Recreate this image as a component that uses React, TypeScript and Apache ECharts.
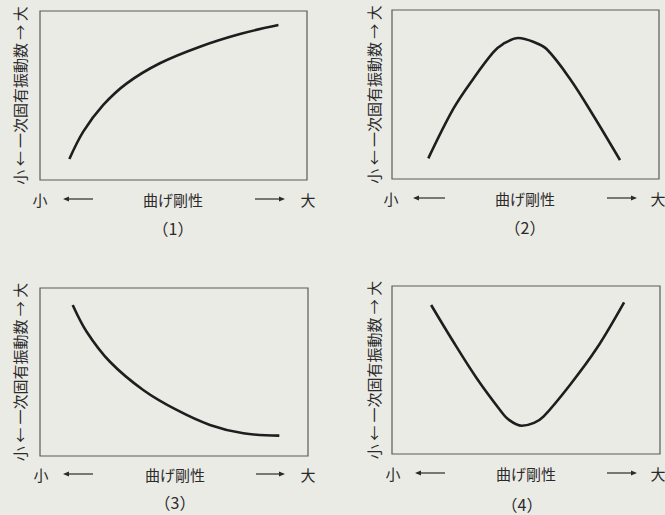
import React, { useEffect, useRef } from "react";
import * as echarts from "echarts";

// Curve points (x: bending stiffness 0-10, y: 1st natural frequency 0-10)
const curve1: number[][] = [[1.1, 1.24], [1.62, 2.86], [2.37, 4.44], [3.25, 5.72], [4.49, 6.91], [5.99, 7.89], [7.49, 8.64], [8.93, 9.17]];
const curve2: number[][] = [[1.36, 1.22], [2.3, 4.16], [3.04, 5.92], [3.79, 7.49], [4.17, 8.0], [4.73, 8.34], [5.29, 8.12], [5.79, 7.69], [6.67, 5.92], [7.54, 3.76], [8.54, 1.12]];
const curve3: number[][] = [[1.22, 8.99], [1.74, 7.4], [2.61, 5.61], [3.85, 3.93], [5.1, 2.74], [6.34, 1.85], [7.59, 1.35], [8.93, 1.21]];
const curve4: number[][] = [[1.46, 8.87], [2.29, 6.68], [3.16, 4.51], [4.03, 2.62], [4.35, 2.05], [4.84, 1.68], [5.3, 1.85], [5.65, 2.22], [6.64, 4.11], [7.64, 6.29], [8.66, 9.03]];
const curves = [curve1, curve2, curve3, curve4];

const yTitle = "小 ← 一次固有振動数 → 大";
const xTitle = "曲げ剛性";
const xSmall = "小";
const xLarge = "大";
const captions = ["（1）", "（2）", "（3）", "（4）"];

const FONT = "'Noto Sans CJK JP', 'Noto Sans', sans-serif";
const INK = "#2a2a2a";

const grids = [
  { left: 40, top: 11, width: 267, height: 169 },
  { left: 392, top: 10, width: 267, height: 169 },
  { left: 40, top: 288, width: 268, height: 168 },
  { left: 392, top: 286, width: 268, height: 168 },
];

// label layout per panel: [smallX, arrowL1, arrowL2, titleX, arrowR1, arrowR2, largeX, labelY, captionX, captionY]
const labelLayout = [
  [40, 63, 93, 173, 255, 285, 308, 199, 173, 228],
  [391, 413, 445, 525, 607, 637, 658, 198, 525, 227],
  [41, 63, 93, 175, 256, 285, 308, 474, 175, 502],
  [393, 415, 445, 526, 607, 637, 658, 473, 522, 504],
];

function arrow(x1: number, x2: number, y: number, dir: "left" | "right") {
  const tip = dir === "left" ? x1 : x2;
  const back = dir === "left" ? tip + 6 : tip - 6;
  return [
    { type: "line", shape: { x1: dir === "left" ? x1 + 4 : x1, y1: y, x2: dir === "left" ? x2 : x2 - 4, y2: y }, style: { stroke: INK, lineWidth: 1.2 } },
    { type: "polygon", shape: { points: [[tip, y], [back, y - 2.6], [back, y + 2.6]] }, style: { fill: INK } },
  ];
}

export default function App() {
  const ref = useRef<HTMLDivElement>(null);
  useEffect(() => {
    if (!ref.current) return;
    const chart = echarts.init(ref.current, undefined, { renderer: "svg" });
    const graphics: any[] = [];
    labelLayout.forEach((l, i) => {
      const [sx, a1, a2, tx, b1, b2, lx, ly, cx, cy] = l;
      const txt = (x: number, y: number, s: string, size = 15) => ({
        type: "text", x, y,
        style: { text: s, fill: INK, font: `${size}px ${FONT}`, align: "center", verticalAlign: "middle" },
      });
      graphics.push(txt(sx, ly, xSmall));
      graphics.push(...arrow(a1, a2, ly, "left"));
      graphics.push(txt(tx, ly, xTitle));
      graphics.push(...arrow(b1, b2, ly, "right"));
      graphics.push(txt(lx, ly, xLarge));
      graphics.push(txt(cx, cy, captions[i], 16));
    });
    chart.setOption({
      animation: false,
      backgroundColor: "#ebebe6",
      grid: grids.map((g) => ({ ...g, show: true, borderColor: "#5a5a5a", borderWidth: 1.2, backgroundColor: "transparent" })),
      xAxis: grids.map((_, i) => ({
        type: "value", gridIndex: i, min: 0, max: 10,
        axisLine: { show: false }, axisTick: { show: false }, axisLabel: { show: false }, splitLine: { show: false },
      })),
      yAxis: grids.map((_, i) => ({
        type: "value", gridIndex: i, min: 0, max: 10,
        name: yTitle, nameLocation: "middle", nameRotate: 90, nameGap: i % 2 === 0 ? 13 : 11,
        nameTextStyle: { fontFamily: FONT, fontSize: 15, color: INK },
        axisLine: { show: false }, axisTick: { show: false }, axisLabel: { show: false }, splitLine: { show: false },
      })),
      series: curves.map((c, i) => ({
        type: "line", xAxisIndex: i, yAxisIndex: i, data: c,
        smooth: 0.35, showSymbol: false,
        lineStyle: { color: "#1e1e1e", width: 2.6 },
      })),
      graphic: graphics,
    });
    return () => chart.dispose();
  }, []);
  return <div ref={ref} style={{ position: "fixed", left: 0, top: 0, width: 665, height: 515 }} />;
}
